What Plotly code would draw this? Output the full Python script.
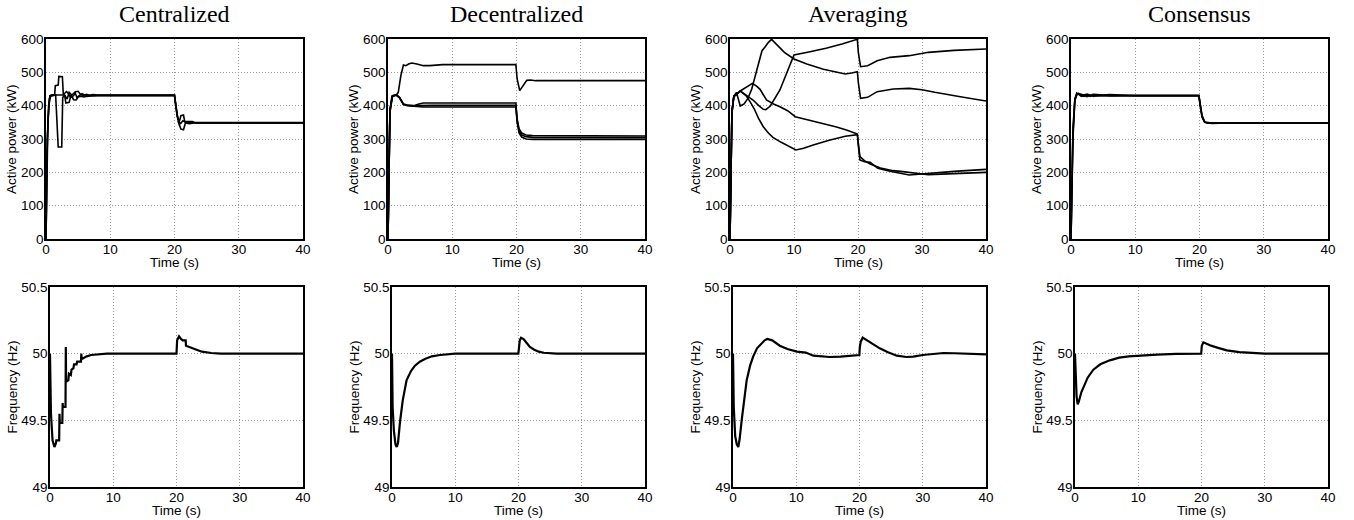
import plotly.graph_objects as go

# ---------------- data ----------------
titles = ["Centralized", "Decentralized", "Averaging", "Consensus"]
time_ticks = [0, 10, 20, 30, 40]
power_ticks = [0, 100, 200, 300, 400, 500, 600]
freq_ticks = [49, 49.5, 50, 50.5]

# Centralized – active power (kW)
cen_p1_t = [0, 0.2, 0.5, 0.8, 1.35, 1.45, 1.9, 2.0, 2.55, 2.7, 2.95, 3.2, 3.5, 3.8, 4.3, 4.6, 5.0, 5.4, 5.8, 6.3, 6.8, 7.3, 8.0, 20.0, 20.2, 20.5, 20.8, 21.0, 21.4, 21.6, 22.2, 22.8, 23.2, 40]
cen_p1_v = [0, 300, 420, 432, 433, 460, 462, 488, 487, 432, 438, 442, 436, 425, 430, 442, 443, 433, 430, 434, 431, 433, 432, 432, 400, 362, 355, 370, 372, 352, 352, 352, 348, 348]
cen_p2_t = [0, 0.15, 0.4, 0.7, 1.5, 1.65, 1.8, 1.9, 2.45, 2.6, 2.9, 3.1, 3.6, 3.9, 4.3, 4.7, 5.0, 5.4, 5.9, 6.3, 7.0, 8.0, 20.0, 20.3, 20.6, 21.0, 21.4, 21.7, 22.3, 23.0, 40]
cen_p2_v = [0, 250, 400, 428, 432, 372, 330, 276, 276, 425, 430, 408, 410, 432, 418, 417, 426, 428, 426, 428, 429, 430, 430, 390, 350, 330, 328, 348, 346, 348, 348]
cen_p3_t = [0, 0.3, 0.6, 1.5, 2.6, 2.9, 3.3, 3.6, 4.0, 4.5, 4.8, 5.2, 5.6, 6.2, 8.0, 20.0, 20.4, 20.9, 21.3, 21.8, 40]
cen_p3_v = [0, 360, 430, 432, 432, 432, 420, 440, 432, 440, 425, 432, 436, 430, 431, 431, 370, 345, 355, 350, 349]

# Centralized – frequency (Hz)
cen_f_t = [0, 0.15, 0.4, 0.7, 0.95, 1.0, 1.45, 1.5, 1.55, 1.95, 2.0, 2.05, 2.45, 2.5, 2.55, 2.9, 3.0, 3.3, 3.4, 3.7, 3.8, 4.2, 4.3, 4.9, 4.95, 5.0, 5.4, 5.8, 6.5, 7.5, 9.0, 20.0, 20.1, 20.4, 20.7, 21.0, 21.45, 21.5, 22.0, 23.0, 24.0, 25.5, 27.0, 40]
cen_f_v = [50.0, 49.55, 49.35, 49.30, 49.33, 49.35, 49.35, 49.55, 49.48, 49.48, 49.63, 49.60, 49.60, 50.05, 49.79, 49.80, 49.85, 49.84, 49.88, 49.89, 49.92, 49.92, 49.94, 49.94, 50.0, 49.96, 49.97, 49.98, 49.99, 49.995, 50.0, 50.0, 50.10, 50.13, 50.11, 50.10, 50.10, 50.06, 50.05, 50.03, 50.015, 50.005, 50.0, 50.0]

# Decentralized – active power (kW)
dec_p1_t = [0, 0.3, 0.6, 1.3, 1.6, 2.0, 2.4, 2.8, 3.2, 3.7, 4.5, 5.5, 6.5, 7.5, 8.5, 19.9, 20.1, 20.5, 21.0, 21.6, 22.2, 23.0, 40]
dec_p1_v = [0, 380, 428, 432, 440, 490, 522, 520, 525, 528, 525, 520, 520, 522, 523, 523, 480, 445, 460, 476, 477, 475, 475]
dec_p2_t = [0, 0.3, 0.7, 1.3, 1.8, 2.4, 3.0, 4.0, 4.8, 5.5, 7.0, 19.9, 20.1, 20.4, 20.8, 21.5, 22.5, 40]
dec_p2_v = [0, 390, 430, 433, 425, 405, 402, 400, 405, 408, 408, 408, 360, 330, 318, 312, 310, 309]
dec_p3_v = [0, 385, 429, 432, 424, 404, 401, 399, 400, 401, 401, 401, 355, 325, 312, 307, 305, 304]
dec_p4_v = [0, 380, 428, 431, 423, 403, 400, 398, 396, 396, 396, 396, 350, 318, 306, 300, 299, 299]

# Decentralized – frequency (Hz)
dec_f_t = [0, 0.1, 0.3, 0.55, 0.75, 0.95, 1.27, 1.7, 2.3, 3.0, 3.63, 4.4, 5.2, 6.3, 7.6, 10.0, 19.98, 20.05, 20.2, 20.4, 20.8, 21.3, 21.8, 22.5, 23.2, 24.0, 26.0, 40]
dec_f_v = [50.0, 49.6, 49.42, 49.32, 49.30, 49.33, 49.49, 49.65, 49.80, 49.87, 49.91, 49.94, 49.96, 49.98, 49.99, 50.0, 50.0, 50.06, 50.10, 50.12, 50.11, 50.08, 50.05, 50.03, 50.015, 50.007, 50.0, 50.0]

# Averaging – active power (kW)
avg_p1_t = [0, 0.3, 0.6, 1.0, 1.6, 2.5, 3.6, 4.5, 5.2, 5.6, 6.3, 7.8, 10.0, 12.5, 15.0, 17.5, 19.9, 20.05, 20.4, 21.5, 23.0, 25.0, 28.0, 31.0, 35.0, 40]
avg_p1_v = [0, 380, 428, 433, 444, 432, 417, 400, 389, 388, 399, 447, 552, 562, 572, 585, 599, 560, 517, 520, 535, 545, 550, 560, 566, 570]
avg_p2_t = [0, 0.3, 0.6, 1.0, 1.3, 1.6, 2.2, 2.8, 3.4, 3.9, 4.5, 5.0, 5.5, 6.0, 6.5, 7.5, 8.5, 10.0, 12.0, 14.6, 16.5, 18.0, 19.0, 19.9, 20.05, 20.4, 21.5, 23.0, 25.5, 28.0, 30.0, 32.0, 36.0, 40]
avg_p2_v = [0, 380, 428, 440, 420, 399, 405, 422, 450, 487, 530, 565, 577, 590, 599, 580, 560, 540, 525, 509, 500, 495, 498, 502, 470, 422, 425, 442, 450, 452, 448, 440, 427, 414]
avg_p3_t = [0, 0.3, 0.6, 1.0, 1.6, 2.5, 3.5, 4.2, 4.7, 5.7, 6.8, 7.8, 9.0, 10.2, 12.5, 14.6, 16.5, 18.2, 19.9, 20.05, 20.3, 21.0, 21.9, 23.1, 25.0, 28.0, 30.0, 31.8, 35.0, 40]
avg_p3_v = [0, 380, 428, 433, 444, 455, 467, 458, 449, 417, 405, 397, 385, 367, 356, 347, 337, 327, 315, 280, 237, 232, 230, 212, 203, 192, 195, 199, 203, 209]
avg_p4_t = [0, 0.3, 0.6, 1.0, 1.6, 2.5, 3.2, 3.8, 4.5, 5.2, 6.0, 6.7, 8.0, 9.0, 10.3, 11.5, 13.0, 15.5, 18.0, 19.9, 20.05, 20.3, 21.0, 21.9, 23.5, 25.5, 27.0, 29.0, 31.0, 35.0, 40]
avg_p4_v = [0, 380, 428, 433, 444, 430, 410, 390, 360, 337, 318, 305, 290, 280, 267, 272, 282, 296, 308, 313, 280, 247, 235, 225, 213, 205, 202, 197, 193, 196, 200]

# Averaging – frequency (Hz)
avg_f_t = [0, 0.12, 0.35, 0.6, 0.84, 1.05, 1.37, 1.75, 2.16, 2.7, 3.2, 3.8, 4.53, 5.0, 5.43, 6.2, 7.4, 8.6, 10.1, 11.5, 12.7, 14.0, 15.3, 17.0, 18.5, 19.98, 20.05, 20.2, 20.5, 21.2, 22.2, 23.2, 24.5, 25.9, 27.4, 28.5, 30.0, 31.5, 33.3, 35.0, 37.0, 40]
avg_f_v = [50.0, 49.6, 49.38, 49.32, 49.30, 49.36, 49.50, 49.66, 49.80, 49.91, 49.98, 50.04, 50.08, 50.10, 50.11, 50.10, 50.06, 50.035, 50.015, 50.008, 49.985, 49.978, 49.975, 49.978, 49.985, 49.99, 50.05, 50.09, 50.12, 50.10, 50.07, 50.04, 50.01, 49.985, 49.975, 49.978, 49.99, 49.995, 50.005, 50.003, 50.0, 49.995]

# Consensus – active power (kW)
con_p_t = [0, 0.3, 0.6, 0.9, 1.2, 1.6, 2.0, 2.5, 3.0, 3.5, 4.0, 5.0, 6.0, 8.0, 10.0, 19.9, 20.1, 20.4, 20.8, 21.2, 22.0, 24.0, 40]
con_p1_v = [0, 300, 415, 432, 436, 434, 432, 435, 431, 434, 433, 432, 433, 431, 430, 430, 405, 370, 352, 349, 348, 348, 348]
con_p2_v = [0, 330, 420, 438, 434, 428, 430, 427, 431, 428, 430, 429, 430, 430, 430, 430, 400, 365, 350, 348, 347, 348, 348]
con_p3_v = [0, 315, 418, 435, 437, 431, 428, 431, 428, 431, 429, 431, 429, 430, 430, 430, 402, 368, 351, 349, 348, 348, 348]

# Consensus – frequency (Hz)
con_f_t = [0, 0.1, 0.25, 0.42, 0.6, 1.0, 1.5, 2.0, 2.9, 4.0, 5.5, 7.0, 8.5, 10.0, 13.0, 16.0, 19.95, 20.05, 20.3, 20.8, 21.5, 22.5, 24.0, 26.0, 28.0, 30.0, 40]
con_f_v = [50.0, 49.8, 49.68, 49.62, 49.64, 49.71, 49.77, 49.82, 49.88, 49.92, 49.95, 49.97, 49.98, 49.985, 49.993, 49.998, 50.0, 50.06, 50.085, 50.075, 50.06, 50.045, 50.025, 50.012, 50.005, 50.0, 50.0]

power_series = [
    [(cen_p1_t, cen_p1_v), (cen_p2_t, cen_p2_v), (cen_p3_t, cen_p3_v)],
    [(dec_p1_t, dec_p1_v), (dec_p2_t, dec_p2_v), (dec_p2_t, dec_p3_v), (dec_p2_t, dec_p4_v)],
    [(avg_p1_t, avg_p1_v), (avg_p2_t, avg_p2_v), (avg_p3_t, avg_p3_v), (avg_p4_t, avg_p4_v)],
    [(con_p_t, con_p1_v), (con_p_t, con_p2_v), (con_p_t, con_p3_v)],
]
freq_series = [
    [(cen_f_t, cen_f_v)],
    [(dec_f_t, dec_f_v)],
    [(avg_f_t, avg_f_v)],
    [(con_f_t, con_f_v)],
]

# ---------------- layout ----------------
W, H = 1354, 520
top_x = [(46, 303), (388, 645), (730, 986), (1071, 1328)]
bot_x = [(50, 303), (392, 645), (733, 986), (1075, 1328)]
top_y = (39, 239)
bot_y = (287, 487)

def px(x):
    return x / W

def py(y):
    return 1 - y / H

fig = go.Figure()
layout = dict(
    template="none",
    width=W, height=H, margin=dict(l=0, r=0, t=0, b=0, pad=0),
    paper_bgcolor="white", plot_bgcolor="white", showlegend=False,
    font=dict(family="Liberation Sans, Arial, sans-serif", size=13.5, color="black"),
)
annotations = []

def axis_common():
    return dict(showline=True, mirror=True, linecolor="black", linewidth=1.5,
                showgrid=True, gridcolor="#9a9a9a", griddash="1px,2px", gridwidth=1,
                zeroline=False, ticks="", automargin=False,
                tickfont=dict(size=13.5, color="black"))

idx = 0
for col in range(4):
    for row in range(2):
        idx += 1
        xs = "" if idx == 1 else str(idx)
        xr, yr = (top_x[col], top_y) if row == 0 else (bot_x[col], bot_y)
        xa = axis_common()
        xa.update(domain=[px(xr[0]), px(xr[1])], range=[0, 40], tickvals=time_ticks,
                  anchor="y" + xs, ticklabelstandoff=-3)
        ya = axis_common()
        if row == 0:
            ya.update(range=[0, 600], tickvals=power_ticks)
            series = power_series[col]
            lw = 1.6
            ytitle = "Active power (kW)"
        else:
            ya.update(range=[49, 50.5], tickvals=freq_ticks,
                      ticktext=[str(v) for v in freq_ticks])
            series = freq_series[col]
            lw = 2.2
            ytitle = "Frequency (Hz)"
        ya.update(domain=[py(yr[1]), py(yr[0])], anchor="x" + xs, ticklabelstandoff=-2)
        layout["xaxis" + xs] = xa
        layout["yaxis" + xs] = ya
        for t, v in series:
            fig.add_trace(go.Scatter(x=t, y=v, mode="lines",
                                     line=dict(color="black", width=lw),
                                     xaxis="x" + xs, yaxis="y" + xs,
                                     hoverinfo="skip"))
        # axis titles
        annotations.append(dict(text="Time (s)", xref="paper", yref="paper",
                                x=px((xr[0] + xr[1]) / 2), y=py(yr[1] + 23),
                                xanchor="center", yanchor="middle", showarrow=False,
                                font=dict(size=13.5, color="black")))
        annotations.append(dict(text=ytitle, xref="paper", yref="paper",
                                x=px(xr[0] - (34 if row == 0 else 38.5)),
                                y=py((yr[0] + yr[1]) / 2), textangle=-90,
                                xanchor="center", yanchor="middle", showarrow=False,
                                font=dict(size=13.5, color="black")))
    annotations.append(dict(text=titles[col], xref="paper", yref="paper",
                            x=px((top_x[col][0] + top_x[col][1]) / 2), y=py(14),
                            xanchor="center", yanchor="middle", showarrow=False,
                            font=dict(family="Liberation Serif, Times New Roman, serif",
                                      size=24, color="black")))

layout["annotations"] = annotations
fig.update_layout(**layout)
fig.write_html("out.html", config={"displayModeBar": False},
               post_script="document.body.style.margin='0';document.body.style.padding='0';")
